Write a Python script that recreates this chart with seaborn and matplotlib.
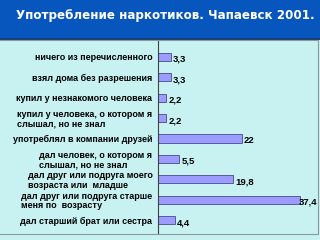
import matplotlib
matplotlib.use("Agg")
import matplotlib.pyplot as plt
import seaborn as sns
import pandas as pd
from matplotlib.patches import Rectangle

categories = [
    "ничего из перечисленного",
    "взял дома без разрешения",
    "купил у незнакомого человека",
    "купил у человека, о котором я\nслышал, но не знал",
    "употреблял в компании друзей",
    "дал человек, о котором я\nслышал, но не знал",
    "дал друг или подруга моего\nвозраста или  младше",
    "дал друг или подруга старше\nменя по  возрасту",
    "дал старший брат или сестра",
]
values = [3.3, 3.3, 2.2, 2.2, 22, 5.5, 19.8, 37.4, 4.4]
value_labels = ["3,3", "3,3", "2,2", "2,2", "22", "5,5", "19,8", "37,4", "4,4"]
title = "Употребление наркотиков. Чапаевск 2001."

sns.set_theme(style="white")
plt.rcParams["font.family"] = ["Liberation Sans", "DejaVu Sans"]

W, H = 320, 240
fig = plt.figure(figsize=(W / 100, H / 100), dpi=100)
fig.patch.set_facecolor("#C8F2F2")

# banner
fig.patches.append(Rectangle((0, (H - 38) / H), 1, 38 / H, transform=fig.transFigure,
                             facecolor="#0656BE", edgecolor="none", zorder=0))
fig.patches.append(Rectangle((0, (H - 40) / H), 1, 2 / H, transform=fig.transFigure,
                             facecolor="#1A3F78", edgecolor="none", zorder=0))
# frame
fig.patches.append(Rectangle((-0.01, (H - 234) / H), 318 / W + 0.01, (234 - 40) / H,
                             transform=fig.transFigure, facecolor="none",
                             edgecolor="#8A9A9A", linewidth=0.8, zorder=1))

fig.text(16 / W, 1 - 16 / H, title, color="white", fontsize=8.6, fontweight="bold",
         ha="left", va="center", family=["DejaVu Sans"])

ax = fig.add_axes([158 / W, (H - 234) / H, (316 - 158) / W, (234 - 40) / H])
ax.set_facecolor("none")
df = pd.DataFrame({"cat": categories, "val": values})
sns.barplot(data=df, x="val", y="cat", orient="h", color="#9C9CFF", saturation=1,
            edgecolor="#5A5A9A", linewidth=0.7, width=0.4, ax=ax)

xmax = 41.5
ax.set_xlim(0, xmax)
ax.set_ylim(8.68, -0.83)
for s in ["top", "right", "bottom"]:
    ax.spines[s].set_visible(False)
ax.spines["left"].set_color("#404040")
ax.spines["left"].set_linewidth(0.8)
ax.set_xticks([])
ax.set_xlabel("")
ax.set_ylabel("")
ax.set_yticks(range(len(categories)))
ax.set_yticklabels(categories, fontsize=6.5, fontweight="bold", color="black",
                   multialignment="left", linespacing=1.05)
ax.tick_params(axis="y", length=0, pad=4)
ax.set_yticks([i + 0.5 for i in range(-1, len(categories))], minor=True)
ax.tick_params(axis="y", which="minor", length=3, width=0.6, color="#404040", direction="out")

for i, (v, lab) in enumerate(zip(values, value_labels)):
    if v + 0.6 + 4.8 > xmax:
        ax.text(xmax + 0.2, i + 0.12, lab, ha="right", va="center", fontsize=6.8,
                fontweight="bold", color="black")
    else:
        ax.text(v + 0.6, i + 0.12, lab, ha="left", va="center", fontsize=6.8,
                fontweight="bold", color="black")

fig.savefig("out.png", dpi=100, facecolor=fig.get_facecolor())
